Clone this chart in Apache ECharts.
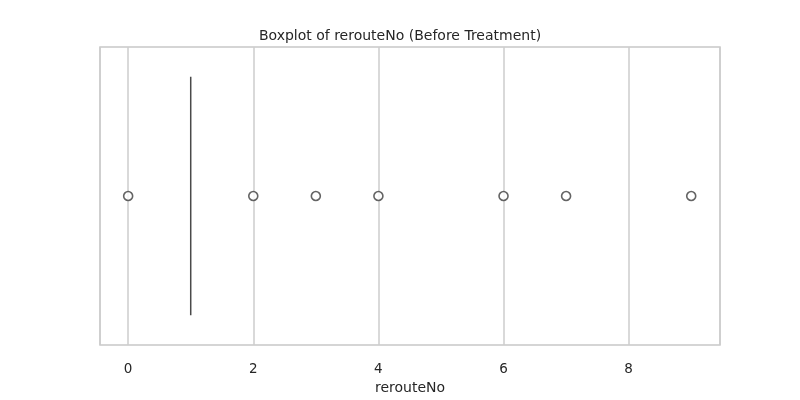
<!DOCTYPE html>
<html>
<head>
<meta charset="utf-8">
<script src="https://cdn.jsdelivr.net/npm/echarts@6/dist/echarts.min.js"></script>
<style>html,body{margin:0;padding:0;background:#fff}#chart{width:800px;height:400px}</style>
</head>
<body>
<div id="chart"></div>
<script>
// box summary: min, Q1, median, Q3, max
let boxStats = [1, 1, 1, 1, 1];
let outliers = [0, 2, 3, 4, 6, 7, 9];
let category = ['rerouteNo'];

let chart = echarts.init(document.getElementById('chart'));
let font = 'DejaVu Sans';

let option = {
    backgroundColor: '#fff',
    title: {
        text: 'Boxplot of rerouteNo (Before Treatment)',
        left: 'center',
        top: 24,
        textStyle: { fontFamily: font, fontSize: 14, fontWeight: 'normal', color: '#262626' }
    },
    grid: { left: 100, right: 80, top: 47, bottom: 45, show: true, borderColor: '#c8c8c8', borderWidth: 1.5 },
    xAxis: {
        type: 'value',
        min: -0.45,
        max: 9.46,
        splitNumber: 5,
        name: 'rerouteNo',
        nameLocation: 'middle',
        nameGap: 36,
        nameTextStyle: { fontFamily: font, fontSize: 14, color: '#262626' },
        axisLine: { show: false },
        axisTick: { show: false },
        axisLabel: { showMinLabel: false, showMaxLabel: false, fontFamily: font, fontSize: 13.5, color: '#262626', margin: 17 },
        splitLine: { lineStyle: { color: '#cccccc', width: 1.5 } }
    },
    yAxis: {
        type: 'category',
        data: category,
        axisLine: { show: false },
        axisTick: { show: false },
        axisLabel: { show: false }
    },
    series: [
        {
            type: 'boxplot',
            data: [boxStats],
            boxWidth: ['80%', '80%'],
            itemStyle: { color: '#3274a1', borderColor: '#4a4a4a', borderWidth: 1.5 }
        },
        {
            type: 'scatter',
            data: outliers.map(v => [v, category[0]]),
            symbol: 'circle',
            symbolSize: 9,
            itemStyle: { color: '#fff', borderColor: '#3d3d3d', borderWidth: 1.6 }
        }
    ]
};

option && chart.setOption(option);
</script>
</body>
</html>
